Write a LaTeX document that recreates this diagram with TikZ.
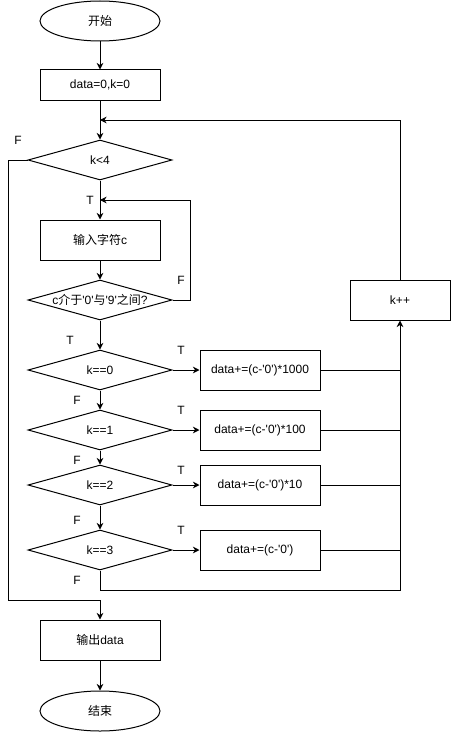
\documentclass[tikz,border=0pt]{standalone}
\usepackage{fontspec}
\setmainfont{Liberation Sans}
\newfontfamily\cjk{Noto Sans CJK SC}
\usetikzlibrary{
  arrows.meta,
  positioning,
  shapes.geometric
}
\newcommand{\sq}{\textquotesingle}

\begin{document}
\begin{tikzpicture}[x=0.75pt,y=-0.75pt,>={Stealth[length=5pt,width=5pt]},
  font=\fontsize{9}{11}\selectfont]
  \tikzset{
    terminal/.style={draw, ellipse, minimum width=90pt, minimum height=30pt, inner sep=0pt},
    process/.style={draw, rectangle, minimum width=90pt, minimum height=30pt, inner sep=0pt},
    decision/.style={draw, diamond, minimum width=108pt, minimum height=30pt, inner sep=0pt},
    every path/.style={line width=0.75pt},
    tf/.style={inner sep=0pt}
  }
\useasboundingbox (0,0) rectangle (450,735);

% main column
\node[terminal] (start) at (100,21) {{\cjk 开始}};
\node[process, minimum height=22.5pt] (init) at (100,85) {data=0,k=0};
\node[decision] (kless) at (100,160) {k<4};
\node[process] (input) at (100,240) {{\cjk 输入字符}c};
\node[decision] (isdigit) at (100,300) {\makebox[0pt]{c{\cjk 介于}\sq0\sq{\cjk 与}\sq9\sq{\cjk 之间}?}};
\node[decision] (kzero) at (100,370) {k==0};
\node[decision] (kone) at (100,430) {k==1};
\node[decision] (ktwo) at (100,485) {k==2};
\node[decision] (kthree) at (100,550) {k==3};
\node[process] (out) at (100,640) {{\cjk 输出}data};
\node[terminal] (stop) at (100,711) {{\cjk 结束}};

% right column
\node[process] (addk) at (260,370) {data+=(c-\sq0\sq)*1000};
\node[process] (addh) at (260,430) {data+=(c-\sq0\sq)*100};
\node[process] (addt) at (260,485) {data+=(c-\sq0\sq)*10};
\node[process] (addo) at (260,550) {data+=(c-\sq0\sq)};
\node[process, minimum width=75pt] (inc) at (400,300) {k++};

\coordinate (loopin) at (100,120);
\coordinate (readin) at (100,200);

\draw[->] (start)--(init);
\draw[->] (init)--(kless);
\draw[->] (kless)--(input);
\draw[->] (input)--(isdigit);
\draw[->] (isdigit)--(kzero);
\draw[->] (kzero)--(kone);
\draw[->] (kone)--(ktwo);
\draw[->] (ktwo)--(kthree);
\draw[->] (out)--(stop);

\draw[->] (kzero)--(addk);
\draw[->] (kone)--(addh);
\draw[->] (ktwo)--(addt);
\draw[->] (kthree)--(addo);

\draw[->] (isdigit.east) -| (190,200) -- (readin);
\draw[->] (inc.north) |- (loopin);
\draw[->] (kless.west) -| (8,600) -| (out.north);
\draw[->] (kthree.south) |- (400,590) -- (inc.south);
\draw (addk.east) -- (addk.east -| inc.south);
\draw (addh.east) -- (addh.east -| inc.south);
\draw (addt.east) -- (addt.east -| inc.south);
\draw (addo.east) -- (addo.east -| inc.south);

% T and F marks
\node[tf] (fless) at (18,140) {F};
\node[tf] (tless) at (90,200) {T};
\node[tf] (fdigit) at (181,280) {F};
\node[tf] (tdigit) at (70,340) {T};
\node[tf] (tzero) at (181,350) {T};
\node[tf] (tone) at (181,410) {T};
\node[tf] (ttwo) at (181,470) {T};
\node[tf] (tthree) at (181,530) {T};
\node[tf] (fzero) at (77,400) {F};
\node[tf] (fone) at (77,460) {F};
\node[tf] (ftwo) at (77,520) {F};
\node[tf] (fthree) at (77,580) {F};
\end{tikzpicture}
\end{document}
